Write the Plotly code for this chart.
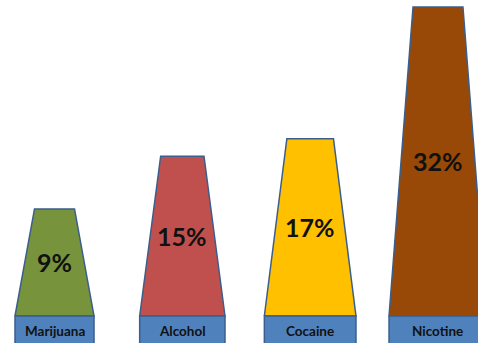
import plotly.graph_objects as go

categories = ["Marijuana", "Alcohol", "Cocaine", "Nicotine"]
values = [9, 15, 17, 32]
value_labels = ["9%", "15%", "17%", "32%"]

fill_colors = ["#77933C", "#C0504D", "#FFC000", "#984807"]
outline = "#3B5E8C"
box_color = "#4F81BD"

BASE = -3.2          # axis value at the top of the label boxes
BOX_BOTTOM = -6.6
Y_RANGE = [-6.275, 32.79]
X_RANGE = [-0.4264, 3.313]

fig = go.Figure()

for i, (cat, v, lab, col) in enumerate(zip(categories, values, value_labels, fill_colors)):
    bw = (79 + 6.3 * i) / 127.8 / 2     # half bottom width (axis units)
    tw = (40 + 3.3 * i) / 127.8 / 2     # half top width
    fig.add_trace(go.Scatter(
        x=[i - bw, i - tw, i + tw, i + bw, i - bw],
        y=[BASE, v, v, BASE, BASE],
        mode="lines", fill="toself", fillcolor=col,
        line=dict(color=outline, width=1.5),
        hoverinfo="skip", showlegend=False))
    fig.add_trace(go.Scatter(
        x=[i - bw, i - bw, i + bw, i + bw, i - bw],
        y=[BOX_BOTTOM, BASE, BASE, BOX_BOTTOM, BOX_BOTTOM],
        mode="lines", fill="toself", fillcolor=box_color,
        line=dict(color=outline, width=1.5),
        hoverinfo="skip", showlegend=False))
    fig.add_annotation(x=i, y=(BASE + v) / 2, text="<b>%s</b>" % lab,
                       showarrow=False, yanchor="middle",
                       font=dict(family="Lato", size=25, color="#111111"))
    fig.add_annotation(x=i, y=BASE - 1.75, text="<b>%s</b>" % cat,
                       showarrow=False, yanchor="middle",
                       font=dict(family="Lato", size=13.5, color="#111111"))

fig.update_layout(
    width=478, height=343,
    margin=dict(l=0, r=0, t=0, b=0),
    paper_bgcolor="white", plot_bgcolor="white",
    xaxis=dict(range=X_RANGE, visible=False, fixedrange=True),
    yaxis=dict(range=Y_RANGE, visible=False, fixedrange=True),
)

fig.write_html("out.html", config={"displayModeBar": False})

with open("out.html", encoding="utf-8") as f:
    html = f.read()
html = html.replace("<head>", "<head><style>html,body{margin:0;padding:0;overflow:hidden;}</style>", 1)
with open("out.html", "w", encoding="utf-8") as f:
    f.write(html)
